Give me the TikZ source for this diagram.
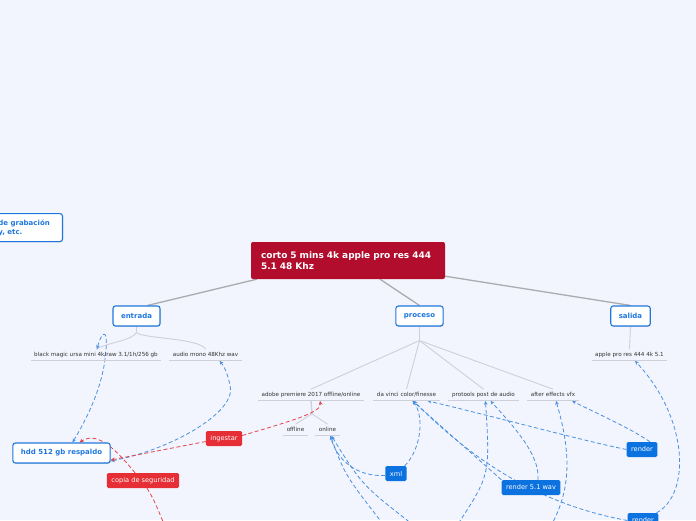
\documentclass[tikz,border=0pt]{standalone}
\usepackage{fontspec}
\setmainfont{DejaVu Sans}
\usetikzlibrary{arrows.meta,backgrounds,shadows}

\definecolor{bgpage}{HTML}{F2F5FD}
\definecolor{rootred}{HTML}{B20D2D}
\definecolor{topicblue}{HTML}{1F78E0}
\definecolor{relblue}{HTML}{4A90E2}
\definecolor{relred}{HTML}{E5454C}
\definecolor{labelblue}{HTML}{0B72E0}
\definecolor{labelred}{HTML}{E62E36}
\definecolor{trunkgray}{HTML}{ABABB0}
\definecolor{twiggray}{HTML}{CDD0D8}
\definecolor{leaftext}{HTML}{333333}

\begin{document}
\begin{tikzpicture}[x=1pt, y=-1pt, >={Stealth[length=4pt,width=3.6pt]},
	root/.style={fill=rootred, rounded corners=2pt, text=white, font=\fontsize{9}{11.5}\selectfont\bfseries, text width=174pt, align=left, inner xsep=10pt, minimum height=37pt},
	topic/.style={draw=topicblue, line width=1.1pt, fill=white, rounded corners=2.5pt, text=topicblue, font=\fontsize{7}{9}\selectfont\bfseries, minimum height=20pt, inner xsep=8pt, drop shadow={shadow xshift=0.6pt, shadow yshift=-0.8pt, opacity=0.3}},
	leaf/.style={text=leaftext, font=\fontsize{5.6}{6}\selectfont, text height=4pt, text depth=1.3pt, inner xsep=3.5pt, inner ysep=3pt, append after command={(\tikzlastnode.south west) edge[draw=twiggray, line width=0.9pt] (\tikzlastnode.south east)}},
	rellabel/.style={rounded corners=1.5pt, text=white, font=\fontsize{6.6}{8}\selectfont, minimum height=15pt, inner xsep=4.5pt},
	relred/.style={rellabel, fill=labelred},
	relblue/.style={rellabel, fill=labelblue},
	trunk/.style={draw=trunkgray, line width=1.3pt},
	twig/.style={draw=twiggray, line width=0.9pt},
	relline/.style={draw=relblue, line width=0.8pt, dash pattern=on 4pt off 2.5pt},
	relredline/.style={draw=relred, line width=0.8pt, dash pattern=on 4pt off 2.5pt}]
	\useasboundingbox (0,0) rectangle (696,520);

	% central topic and main branches
	\node[root] (root) at (348,260.5) {corto 5 mins 4k apple pro res 444\\5.1 48 Khz};
	\node[topic, anchor=north east, minimum height=28pt, text width=53pt, align=left, inner xsep=11pt] (equipo) at (63,213) {de grabación\\y, etc.};
	\node[topic] (entrada) at (136.5,316) {entrada};
	\node[topic] (proceso) at (419.5,316) {proceso};
	\node[topic] (salida) at (630.5,316) {salida};
	\node[topic] (hdd) at (61.5,453) {hdd 512 gb respaldo};

	% leaves
	\node[leaf] (ursa) at (96,355) {black magic ursa mini 4k/raw 3.1/1h/256 gb};
	\node[leaf] (audio) at (205.5,355) {audio mono 48Khz wav};
	\node[leaf] (premiere) at (311,395) {adobe premiere 2017 offline/online};
	\node[leaf] (davinci) at (406.5,395) {da vinci color/finesse};
	\node[leaf] (protools) at (483.5,395) {protools post de audio};
	\node[leaf] (vfx) at (553,395) {after effects vfx};
	\node[leaf] (offline) at (295.5,430) {offline};
	\node[leaf] (online) at (327.5,430) {online};
	\node[leaf] (apple) at (629.5,355) {apple pro res 444 4k 5.1};

	% relationship labels
	\node[relred] (ingestar) at (224,438.5) {ingestar};
	\node[relred] (copia) at (143,480.5) {copia de seguridad};
	\node[relblue] (xml) at (396,473.5) {xml};
	\node[relblue] (wav) at (531,487.5) {render 5.1 wav};
	\node[relblue] (render) at (642,449.5) {render};
	\node[relblue] (renderb) at (643,520.5) {render};

	\begin{scope}[on background layer]
		\fill[bgpage] (0,0) rectangle (696,520);
		% tree
		\draw[trunk] ([xshift=6pt]root.south west) -- ([xshift=11pt]entrada.north);
		\draw[trunk] ([xshift=32pt]root.south) -- (proceso.north);
		\draw[trunk] ([yshift=3pt]root.south east) -- (salida.north);
		\draw[twig] (entrada.south) -- ++(0,6) coordinate (efork) .. controls ++(-5,8) and (110,342) .. (ursa.north);
		\draw[twig] (efork) .. controls ++(5,6) and (200,338) .. (audio.north);
		\draw[twig] (proceso.south) -- ++(0,14) coordinate (pfork);
		\foreach \leafname in {premiere,davinci,protools,vfx}
			\draw[twig] (pfork) -- (\leafname.north);
		\draw[twig, line width=1.4pt] (premiere.south) -- ++(1,13) coordinate (afork);
		\draw[twig] (afork) -- (offline.north);
		\draw[twig] (afork) -- (online.north);
		\draw[twig] (salida.south) -- (apple.north);

		% relationships
		\draw[relline, <->] ([xshift=11pt]hdd.north) .. controls (92,410) and (104,380) .. (106,350) .. controls (108,326) and (101,333) .. ([xshift=1pt]ursa.north);
		\draw[relline, <->] ([yshift=-8pt]hdd.east) .. controls (170,450) and (238,412) .. (230,385) .. controls (227,372) and (224,366) .. ([xshift=14pt]audio.south);
		\draw[relredline, ->] ([yshift=-3pt]ingestar.west) -- ([yshift=-7pt]hdd.east);
		\draw[relredline, ->] ([yshift=3pt]ingestar.east) .. controls (295,420) and (322,412) .. ([xshift=9pt]premiere.south);
		\draw[relredline, ->] ([xshift=-8pt]copia.north) .. controls (118,452) and (98,430) .. ([xshift=18pt]hdd.north);
		\draw[relredline] ([xshift=4pt]copia.south) .. controls (154,500) .. (164,524);
		\draw[relline, ->] ([yshift=-2pt]xml.west) .. controls (355,477) and (336,458) .. ([xshift=3pt]online.south);
		\draw[relline, ->] ([xshift=-2pt]xml.north east) .. controls (422,448) and (424,415) .. ([xshift=6pt]davinci.south);
		\draw[relline, <-] ([xshift=3pt]online.south) .. controls (345,475) .. (383,524);
		\draw[relline, <-] ([xshift=4pt]online.south) .. controls (362,485) .. (412,524);
		\draw[relline, ->] (wav.north west) -- ([xshift=6pt]davinci.south);
		\draw[relline, ->] (renderb.west) .. controls (560,508) and (490,478) .. ([xshift=7pt]davinci.south);
		\draw[relline, ->] ([xshift=7pt]wav.north) .. controls (540,455) and (515,428) .. ([xshift=7pt]protools.south);
		\draw[relline, ->] (render.west) .. controls (580,440) and (500,418) .. ([xshift=21pt]davinci.south);
		\draw[relline, ->] ([xshift=8pt]render.north) .. controls (630,428) and (600,415) .. ([xshift=19pt]vfx.south);
		\draw[relline, ->] ([xshift=-2pt]renderb.north east) .. controls (690,495) and (690,420) .. ([xshift=5.5pt]apple.south);
		\draw[relline, <-] ([xshift=2pt]protools.south) .. controls (490,475) .. (458,524);
		\draw[relline, <-] ([xshift=3pt]vfx.south) .. controls (572,455) and (570,490) .. (552,524);
	\end{scope}
\end{tikzpicture}
\end{document}
